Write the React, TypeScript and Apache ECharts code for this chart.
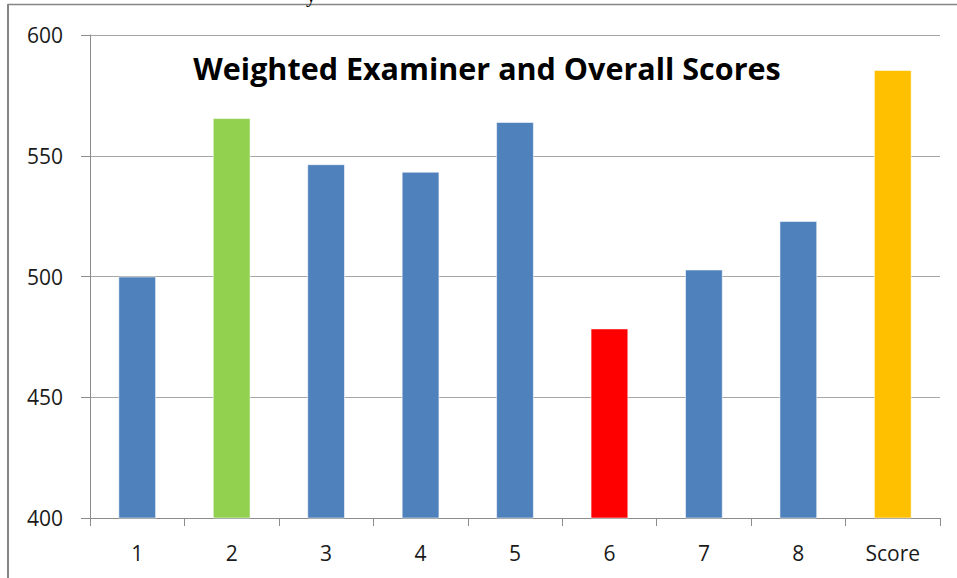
import React, { useEffect, useRef } from "react";
import * as echarts from "echarts";

const categories = ["1", "2", "3", "4", "5", "6", "7", "8", "Score"];
const scores = [500, 565.6, 546.5, 543.4, 564, 478.5, 502.9, 523, 585.5];
const barColors = ["#4F81BD", "#92D050", "#4F81BD", "#4F81BD", "#4F81BD", "#FF0000", "#4F81BD", "#4F81BD", "#FFC000"];
const titleText = "Weighted Examiner and Overall Scores";
const yMin = 400;
const yMax = 600;
const yStep = 50;

export default function App() {
  const ref = useRef<HTMLDivElement>(null);
  useEffect(() => {
    document.body.style.margin = "0";
    if (!ref.current) return;
    const chart = echarts.init(ref.current, undefined, { renderer: "svg" });
    const font = "'Open Sans', 'Noto Sans', sans-serif";
    chart.setOption({
      animation: false,
      backgroundColor: "#ffffff",
      title: {
        text: titleText,
        left: 482,
        top: 47,
        textAlign: "center",
        textStyle: { fontFamily: font, fontWeight: "bold", fontSize: 30.5, color: "#000000" },
      },
      grid: { left: 90, right: 17, top: 35, bottom: 60, containLabel: false },
      xAxis: {
        type: "category",
        data: categories,
        boundaryGap: true,
        axisLine: { show: true, lineStyle: { color: "#8C8C8C", width: 1 } },
        axisTick: { show: true, length: 8, alignWithLabel: false, lineStyle: { color: "#8C8C8C" } },
        axisLabel: { fontFamily: font, fontSize: 21, color: "#1a1a1a", margin: 24 },
      },
      yAxis: {
        type: "value",
        min: yMin,
        max: yMax,
        interval: yStep,
        axisLine: { show: true, lineStyle: { color: "#8C8C8C", width: 1 } },
        axisTick: { show: true, length: 9, lineStyle: { color: "#8C8C8C" } },
        axisLabel: { fontFamily: font, fontSize: 21, color: "#1a1a1a", margin: 27 },
        splitLine: { show: true, lineStyle: { color: "#A6A6A6", width: 1 } },
      },
      series: [
        {
          type: "bar",
          barWidth: "40%",
          data: scores.map((v, i) => ({
            value: v,
            itemStyle: { color: barColors[i], borderColor: "rgba(255,255,255,0.55)", borderWidth: 1 },
          })),
        },
      ],
      graphic: [
        {
          type: "line",
          shape: { x1: 8, y1: 4.5, x2: 957, y2: 4.5 },
          style: { stroke: "#858585", lineWidth: 1.5 },
        },
        {
          type: "line",
          shape: { x1: 8, y1: 4, x2: 8, y2: 578 },
          style: { stroke: "#858585", lineWidth: 2 },
        },
        {
          type: "text",
          x: 306,
          y: -15,
          style: { text: "y", font: "20px 'Liberation Serif', serif", fill: "#000000" },
        },
      ],
    });
    return () => chart.dispose();
  }, []);
  return <div ref={ref} style={{ width: 957, height: 578 }} />;
}
